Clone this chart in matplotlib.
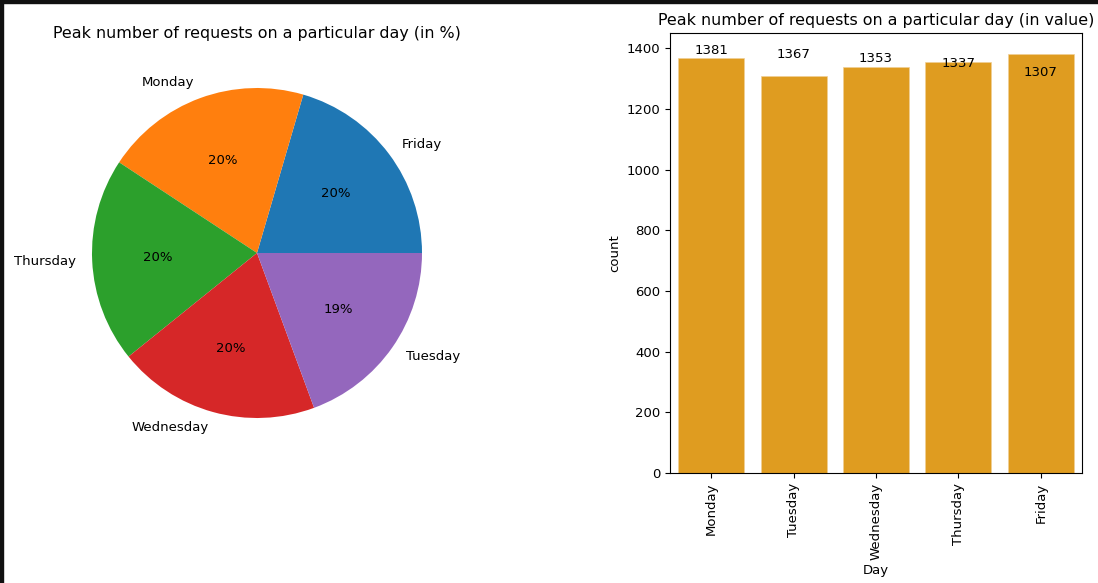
import matplotlib
matplotlib.use("Agg")
import matplotlib.pyplot as plt
from matplotlib.patches import Rectangle

plt.rcParams["font.size"] = 9.5

# pie: value_counts order
pie_days = ["Friday", "Monday", "Thursday", "Wednesday", "Tuesday"]
pie_counts = [1381, 1367, 1353, 1337, 1307]

# bar: weekday order
bar_days = ["Monday", "Tuesday", "Wednesday", "Thursday", "Friday"]
bar_counts = [1367, 1307, 1337, 1353, 1381]
# annotations were written in value_counts order
bar_labels = [1381, 1367, 1353, 1337, 1307]

W, H = 1098, 583
fig = plt.figure(figsize=(W / 100, H / 100), dpi=100)

# pie axes: square box centred on the pie
r = 165
cx, cy = 257, 253
side = 2.5 * r
ax1 = fig.add_axes([(cx - side / 2) / W, (H - cy - side / 2) / H, side / W, side / H])
ax1.pie(pie_counts, labels=pie_days, autopct="%1.0f%%")
ax1.set_title("Peak number of requests on a particular day (in %)", fontsize=11.4)

# bar axes
left, right, top, bottom = 670, 1082, 33, 473
ax2 = fig.add_axes([left / W, (H - bottom) / H, (right - left) / W, (bottom - top) / H])
ax2.bar(range(len(bar_days)), bar_counts, width=0.8, color="#df9c20",
        edgecolor="#f0cf95", linewidth=0.5)
ax2.set_xlim(-0.5, len(bar_days) - 0.5)
ax2.set_xticks(range(len(bar_days)))
ax2.set_xticklabels(bar_days, rotation=90)
for i, v in enumerate(bar_labels):
    ax2.text(i, v, str(v), ha="center", va="baseline")
ax2.set_xlabel("Day", labelpad=3)
ax2.set_ylabel("count")
ax2.set_title("Peak number of requests on a particular day (in value)", fontsize=11.4)

# screenshot border
fig.patches.append(Rectangle((0, 1 - 3 / H), 1, 3 / H, transform=fig.transFigure,
                             color="#111111", zorder=10))
fig.patches.append(Rectangle((0, 0), 3 / W, 1, transform=fig.transFigure,
                             color="#111111", zorder=10))

fig.savefig("out.png", dpi=100)
